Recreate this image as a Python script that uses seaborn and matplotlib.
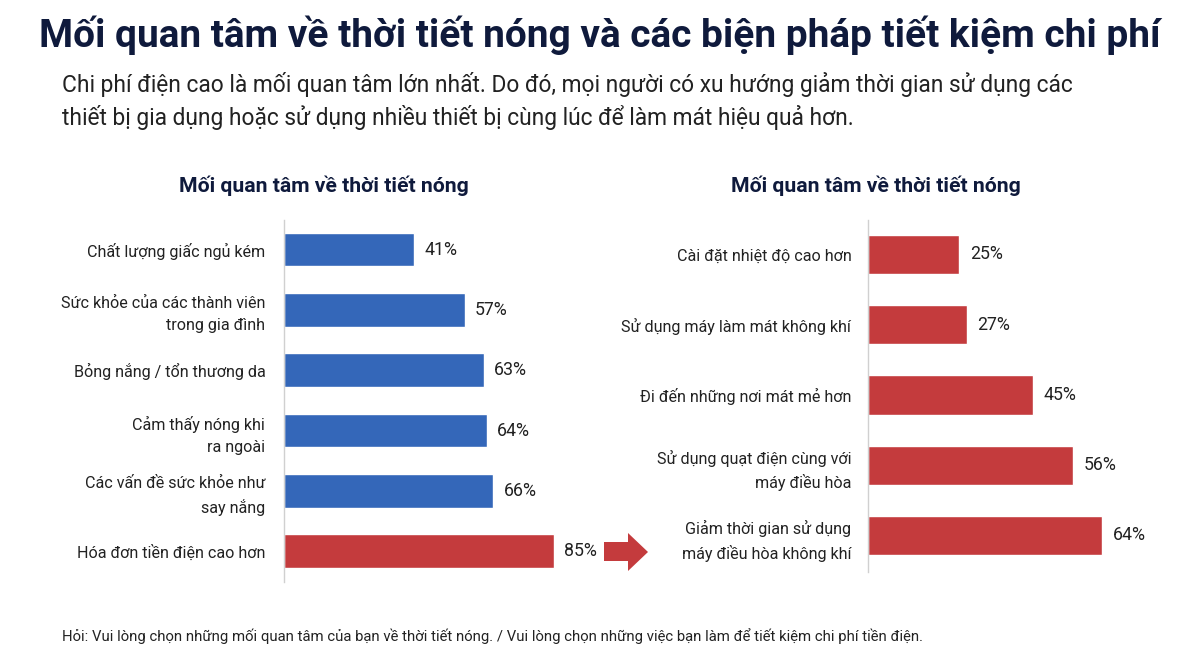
import matplotlib
matplotlib.use("Agg")
import matplotlib.pyplot as plt
import seaborn as sns
import pandas as pd
from matplotlib.patches import Polygon

# data
concern_labels = ["Chất lượng giấc ngủ kém", "Sức khỏe của các thành viên\ntrong gia đình",
                  "Bỏng nắng / tổn thương da", "Cảm thấy nóng khi\nra ngoài",
                  "Các vấn đề sức khỏe như\nsay nắng", "Hóa đơn tiền điện cao hơn"]
concern_values = [41, 57, 63, 64, 66, 85]
concern_highlight = [False, False, False, False, False, True]

saving_labels = ["Cài đặt nhiệt độ cao hơn", "Sử dụng máy làm mát không khí",
                 "Đi đến những nơi mát mẻ hơn", "Sử dụng quạt điện cùng với\nmáy điều hòa",
                 "Giảm thời gian sử dụng\nmáy điều hòa không khí"]
saving_values = [25, 27, 45, 56, 64]

title = "Mối quan tâm về thời tiết nóng và các biện pháp tiết kiệm chi phí"
subtitle = ("Chi phí điện cao là mối quan tâm lớn nhất. Do đó, mọi người có xu hướng giảm thời gian sử dụng các\n"
            "thiết bị gia dụng hoặc sử dụng nhiều thiết bị cùng lúc để làm mát hiệu quả hơn.")
left_title = "Mối quan tâm về thời tiết nóng"
right_title = "Mối quan tâm về thời tiết nóng"
footer = ("Hỏi: Vui lòng chọn những mối quan tâm của bạn về thời tiết nóng. / "
          "Vui lòng chọn những việc bạn làm để tiết kiệm chi phí tiền điện.")

BLUE = "#3467b9"
RED = "#c43b3d"
NAVY = "#0f1a3c"
TEXT = "#222222"

sns.set_theme(style="white")
plt.rcParams['font.family'] = ['Roboto', 'DejaVu Sans']

fig = plt.figure(figsize=(12, 6.71), dpi=100)
W, H = 1200, 671

def axes_px(x0, y0, x1, y1):
    return fig.add_axes([x0 / W, 1 - y1 / H, (x1 - x0) / W, (y1 - y0) / H])

def draw(ax, labels, values, colors, xmax, ylim, height, pad):
    df = pd.DataFrame({"label": labels, "value": values})
    sns.barplot(data=df, x="value", y="label", hue="label", palette=colors,
                legend=False, orient="h", width=height, saturation=1, ax=ax)
    ax.set_xlim(0, xmax)
    ax.set_ylim(*ylim)
    for i, v in enumerate(values):
        ax.annotate("%d%%" % v, (v, i), xytext=(7.5, 0), textcoords="offset points",
                    va="center", ha="left", fontsize=12.8, color=TEXT)
    ax.set_xlabel("")
    ax.set_ylabel("")
    ax.set_xticks([])
    ax.tick_params(axis="y", length=0, pad=pad, labelsize=11.6, labelcolor=TEXT)
    for t in ax.get_yticklabels():
        t.set_linespacing(1.55)
    for s in ["top", "right", "bottom"]:
        ax.spines[s].set_visible(False)
    ax.spines["left"].set_color("#d0d0d0")
    ax.spines["left"].set_linewidth(1)

ax1 = axes_px(284, 220, 596, 582)
left_colors = [RED if h else BLUE for h in concern_highlight]
draw(ax1, concern_labels, concern_values, left_colors, 98.4, (5.51, -0.49), 0.556, 13.5)

ax2 = axes_px(868, 220, 1190, 572)
draw(ax2, saving_labels, saving_values, [RED] * len(saving_values), 88, (4.52, -0.49), 0.56, 12)

fig.text(0.5, 1 - 35 / H, title, ha="center", va="center", fontsize=28,
         fontweight="bold", color=NAVY)
fig.text(62 / W, 1 - 101 / H, subtitle, ha="left", va="center", fontsize=16.4,
         color=TEXT, linespacing=1.4)
fig.text(324 / W, 1 - 186 / H, left_title, ha="center", va="center", fontsize=15.2,
         fontweight="bold", color=NAVY)
fig.text(876 / W, 1 - 186 / H, right_title, ha="center", va="center", fontsize=15.2,
         fontweight="bold", color=NAVY)
fig.text(62 / W, 1 - 636 / H, footer, ha="left", va="center", fontsize=10.7, color=TEXT)

# arrow between the two panels
pts = [(604, 542), (628, 542), (628, 533), (648, 552), (628, 571), (628, 561), (604, 561)]
fig.patches.append(Polygon([(x / W, 1 - y / H) for x, y in pts], closed=True,
                           transform=fig.transFigure, facecolor=RED, edgecolor="none"))

fig.savefig("out.png", dpi=100)
